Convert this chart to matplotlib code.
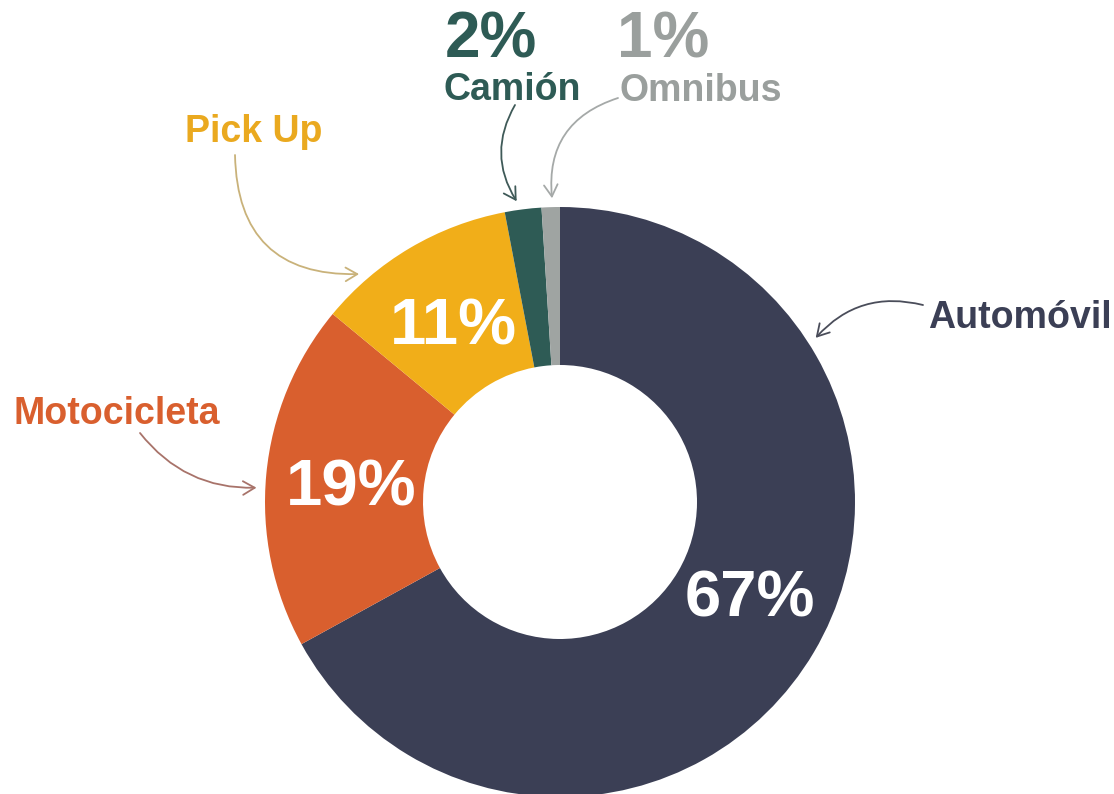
import numpy as np
import matplotlib
matplotlib.use('Agg')
import matplotlib.pyplot as plt

plt.rcParams['font.family'] = ['Liberation Sans', 'DejaVu Sans']

# datos: parque vehicular por tipo (%)
categorias = ['Automóvil', 'Motocicleta', 'Pick Up', 'Camión', 'Omnibus']
porcentajes = [67, 19, 11, 2, 1]
colores = ['#3b3f55', '#d95f2e', '#f1ae19', '#2e5b55', '#9fa4a2']
colores_texto = ['#3b3f55', '#d95f2e', '#eaa91f', '#2e5b55', '#9a9f9d']
colores_flecha = ['#4a4d5a', '#a8736a', '#c9b27a', '#3f5a58', '#a5a9a8']

W, H = 1114, 794
fig = plt.figure(figsize=(W / 100, H / 100), dpi=100)
ax = fig.add_axes([0, 0, 1, 1])

cx, cy = 560, 292
R = 295
ancho = 158

wedges, _ = ax.pie(porcentajes, colors=colores, startangle=90, counterclock=False,
                   radius=R, center=(cx, cy),
                   wedgeprops=dict(width=ancho, linewidth=0))
ax.set_xlim(0, W)
ax.set_ylim(0, H)
ax.set_aspect('equal')
ax.axis('off')

# porcentajes dentro del anillo (solo los grandes)
ajuste_angulo = [5, 0, 0, 0, 0]
for w, p, d in zip(wedges, porcentajes, ajuste_angulo):
    if p < 5:
        continue
    a = np.deg2rad((w.theta1 + w.theta2) / 2 + d)
    r = R - 85
    ax.text(cx + r * np.cos(a), cy + r * np.sin(a), '%d%%' % p,
            color='white', fontsize=47, fontweight='bold',
            ha='center', va='center_baseline')

# etiquetas externas (x centro, linea base en pixeles desde arriba)
pos_nombre = [(1020, 328), (117, 424), (254, 142), (512, 100), (701, 101)]
pos_pct = [None, None, None, (491, 57), (663, 57)]
for nombre, p, col, pn, pp in zip(categorias, porcentajes, colores_texto, pos_nombre, pos_pct):
    ax.text(pn[0], H - pn[1], nombre, color=col, fontsize=27, fontweight='bold',
            ha='center', va='baseline')
    if pp is not None:
        ax.text(pp[0], H - pp[1], '%d%%' % p, color=col, fontsize=46,
                fontweight='bold', ha='center', va='baseline')

# flechas curvas hacia cada segmento
inicio_flecha = [(923, 305), (140, 433), (235, 155), (515, 105), (618, 98)]
angulo_flecha = [32.7, 177.3, 131.4, 98.2, 91.5]
curva = [0.3, 0.25, 0.5, 0.3, 0.4]
for ini, ang, rad, col in zip(inicio_flecha, angulo_flecha, curva, colores_flecha):
    a = np.deg2rad(ang)
    fin = (cx + 1.03 * R * np.cos(a), cy + 1.03 * R * np.sin(a))
    ax.annotate('', xy=fin, xytext=(ini[0], H - ini[1]),
                arrowprops=dict(arrowstyle='->,head_length=0.6,head_width=0.35',
                                color=col, lw=1.3, mutation_scale=14,
                                shrinkA=0, shrinkB=0,
                                connectionstyle='arc3,rad=%s' % rad))

fig.savefig('out.png', dpi=100, facecolor='white')
